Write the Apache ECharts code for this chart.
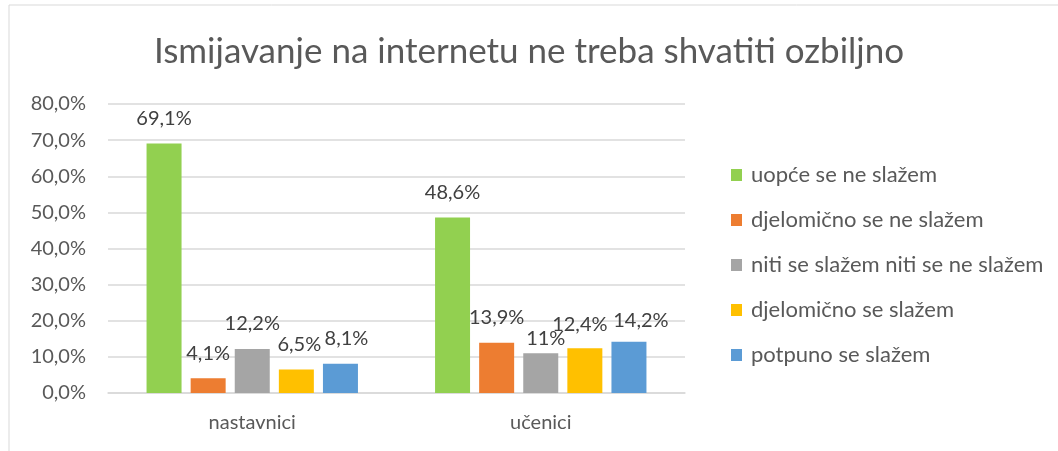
<!DOCTYPE html>
<html>
<head>
<meta charset="utf-8">
<script src="https://cdn.jsdelivr.net/npm/echarts@6/dist/echarts.min.js"></script>
<style>
    html, body { margin: 0; padding: 0; background: #fff; }
    #mains { width: 1058px; height: 451px; }
</style>
</head>
<body>
<div id="mains"></div>
<script>
    var categories = ['nastavnici', 'učenici'];
    var seriesNames = ['uopće se ne slažem', 'djelomično se ne slažem', 'niti se slažem niti se ne slažem', 'djelomično se slažem', 'potpuno se slažem'];
    var uopce = [69.1, 48.6];
    var djelomicnoNe = [4.1, 13.9];
    var niti = [12.2, 11];
    var djelomicnoDa = [6.5, 12.4];
    var potpuno = [8.1, 14.2];
    var colors = ['#92D050', '#ED7D31', '#A5A5A5', '#FFC000', '#5B9BD5'];

    var values = [uopce, djelomicnoNe, niti, djelomicnoDa, potpuno];
    var font = 'Lato';

    // label nudges (Excel moved some of them by hand), [series][category] -> [dx, dy]
    var labelNudge = [
        [[0, 0], [0, 0]],
        [[0, 0], [0, 0]],
        [[0, 0], [5, 10]],
        [[3, 0], [-5, 1]],
        [[6, 0], [12, 4]]
    ];

    var series = [];
    for (var i = 0; i < seriesNames.length; i++) {
        var items = [];
        for (var j = 0; j < values[i].length; j++) {
            items.push({ value: values[i][j], label: { offset: labelNudge[i][j] } });
        }
        series.push({
            name: seriesNames[i],
            type: 'bar',
            barWidth: 35,
            barGap: '26%',
            itemStyle: { color: colors[i] },
            label: {
                show: true,
                position: 'top',
                distance: 15,
                fontFamily: font,
                fontSize: 20,
                color: '#404040',
                formatter: function (p) {
                    return String(p.value).replace('.', ',') + '%';
                }
            },
            data: items
        });
    }

    var myChart = echarts.init(document.getElementById('mains'));
    myChart.setOption({
        animation: false,
        title: {
            text: 'Ismijavanje na internetu ne treba shvatiti ozbiljno',
            left: 'center',
            top: 29,
            textStyle: { fontFamily: font, fontSize: 35, fontWeight: 'normal', color: '#595959' }
        },
        legend: {
            orient: 'vertical',
            left: 726,
            top: 159,
            itemWidth: 11,
            itemHeight: 12,
            itemGap: 23,
            icon: 'rect',
            textStyle: { fontFamily: font, fontSize: 22, color: '#595959', padding: [0, 0, 0, 4] },
            data: seriesNames
        },
        grid: { left: 108, right: 373, top: 104, bottom: 58 },
        xAxis: {
            type: 'category',
            data: categories,
            axisTick: { show: false },
            axisLine: { lineStyle: { color: '#d9d9d9', width: 1.5 } },
            axisLabel: { margin: 20, fontFamily: font, fontSize: 20, color: '#595959' }
        },
        yAxis: {
            type: 'value',
            min: 0,
            max: 80,
            interval: 10,
            axisLine: { show: false },
            axisTick: { show: false },
            splitLine: { lineStyle: { color: '#d9d9d9', width: 1.5 } },
            axisLabel: {
                margin: 22,
                fontFamily: font,
                fontSize: 20,
                color: '#595959',
                formatter: function (v) { return v.toFixed(1).replace('.', ',') + '%'; }
            }
        },
        graphic: [{
            type: 'rect',
            shape: { x: 9, y: 5, width: 1100, height: 500 },
            style: { fill: 'none', stroke: '#d9d9d9', lineWidth: 1 },
            silent: true
        }],
        series: series
    });
</script>
</body>
</html>
